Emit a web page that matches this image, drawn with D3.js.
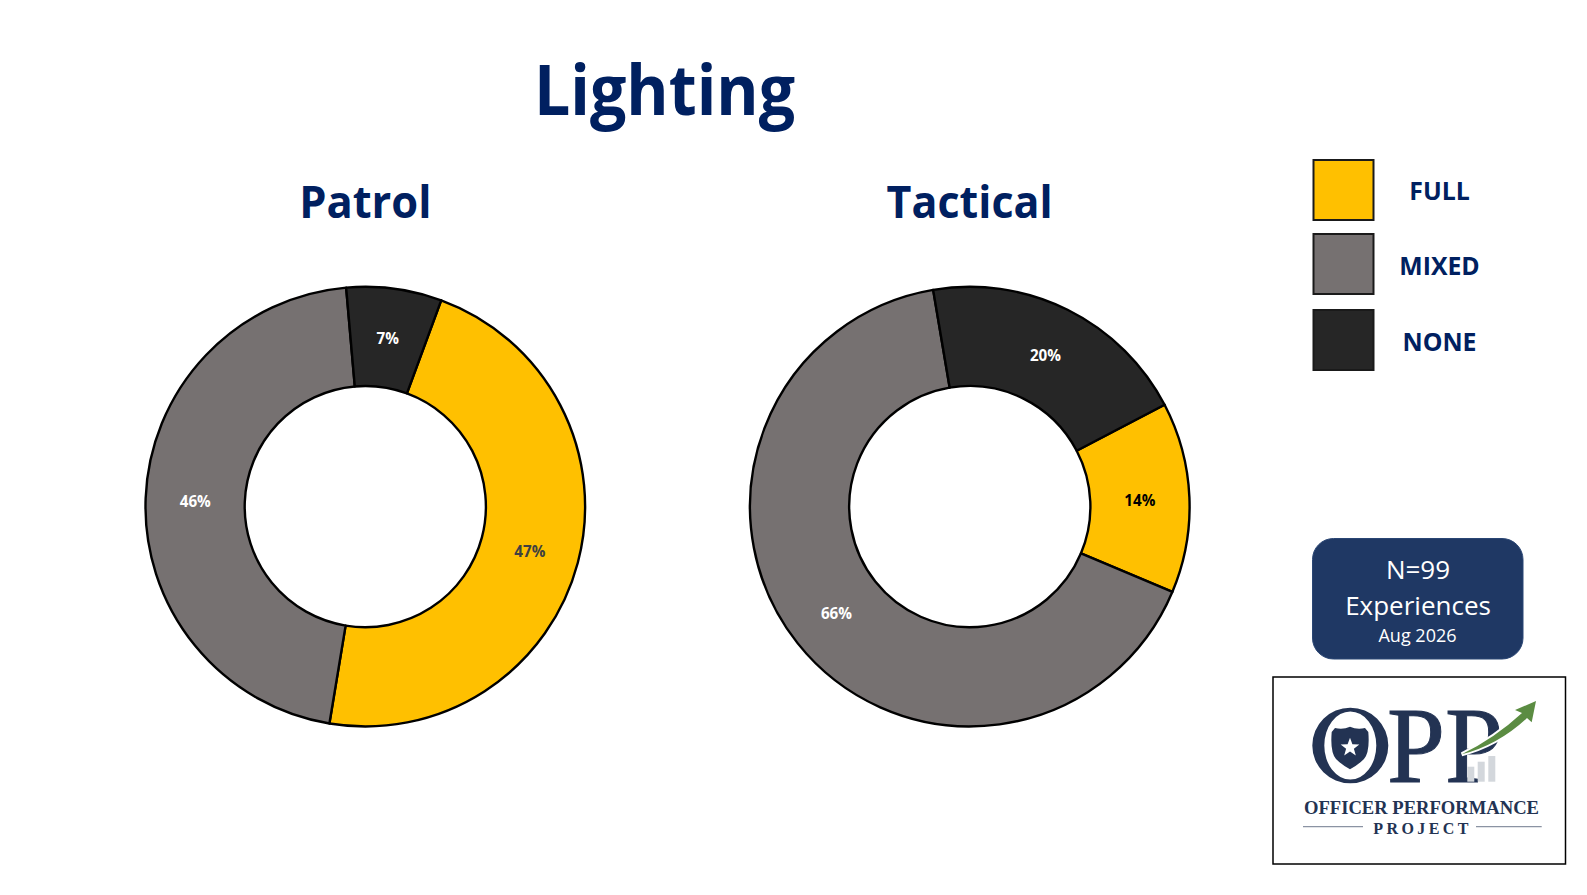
<!DOCTYPE html>
<html><head><meta charset="utf-8">
<script src="https://cdn.jsdelivr.net/npm/d3@7/dist/d3.min.js"></script>
<style>html,body{margin:0;padding:0;background:#fff;overflow:hidden}svg{display:block}</style>
</head><body><svg id="c" width="1587" height="895"></svg>
<script>
const categories = ["FULL","MIXED","NONE"];
const patrolValues = [47,46,7];
const tacticalValues = [14,66,20];
const colors = ["#FFC000","#767171","#262626"];
const labelColorsPatrol = ["#404040","#ffffff","#ffffff"];
const labelColorsTactical = ["#000000","#ffffff","#ffffff"];
const legendTops = [160,234,310];
const legendBaselines = [199.5,275,350.5];
const navy = "#002060", font = "'Open Sans',sans-serif";
const svg = d3.select("#c");

function txt(x,y,s,size,weight,fill,opts={}){
  const t=svg.append("text").attr("x",x).attr("y",y).attr("text-anchor",opts.anchor||"middle")
    .attr("font-family",opts.family||font).attr("font-size",size).attr("font-weight",weight).attr("fill",fill).text(s);
  if(opts.condense){t.attr("textLength",t.node().getComputedTextLength()*opts.condense).attr("lengthAdjust","spacingAndGlyphs");}
  if(opts.length){t.attr("textLength",opts.length).attr("lengthAdjust",opts.adjust||"spacingAndGlyphs");}
  return t;
}
txt(664.5,115,"Lighting",70,700,navy,{condense:0.92});
txt(365.3,217.5,"Patrol",44.8,700,navy,{condense:0.97});
txt(969.6,217.5,"Tactical",44.8,700,navy,{condense:0.96});

function donut(cx,values,startDeg,labelColors){
  const g=svg.append("g").attr("transform",`translate(${cx},506.6)`);
  const start=startDeg*Math.PI/180;
  const pie=d3.pie().sort(null).value(d=>d).startAngle(start).endAngle(start+2*Math.PI);
  const arc=d3.arc().innerRadius(120.6).outerRadius(219.8);
  const arcs=pie(values);
  g.selectAll("path").data(arcs).join("path").attr("d",arc).attr("fill",(d,i)=>colors[i])
    .attr("stroke","#000").attr("stroke-width",2.4).attr("stroke-linejoin","round");
  g.selectAll("text").data(arcs).join("text")
    .attr("x",d=>arc.centroid(d)[0]).attr("y",d=>arc.centroid(d)[1]+6.5)
    .attr("text-anchor","middle").attr("font-family",font).attr("font-size",15.2).attr("font-weight",700)
    .attr("fill",(d,i)=>labelColors[i]).text(d=>d.value+"%");
}
donut(365.3,patrolValues,20.2,labelColorsPatrol);
donut(969.8,tacticalValues,62.4,labelColorsTactical);

// legend
categories.forEach((c,i)=>{
  svg.append("rect").attr("x",1313.5).attr("y",legendTops[i]).attr("width",60).attr("height",60)
    .attr("fill",colors[i]).attr("stroke","#1a1a1a").attr("stroke-width",2);
  txt(1439.5,legendBaselines[i],c,25.6,700,navy,{condense:0.97});
});

// N box
svg.append("rect").attr("x",1312.5).attr("y",538.5).attr("width",210.5).attr("height",120.5).attr("rx",21)
  .attr("fill","#1F3864").attr("stroke","#2a4674").attr("stroke-width",1);
txt(1418,578.8,"N=99",26,400,"#fff");
txt(1418,614.8,"Experiences",26,400,"#fff");
txt(1417.5,641.5,"Aug 2026",18,400,"#fff");

// logo
svg.append("rect").attr("x",1273).attr("y",677).attr("width",292.5).attr("height",187).attr("fill","#fff").attr("stroke","#000").attr("stroke-width",1.5);
const logoNavy="#233353", serif="'Liberation Serif',serif";
const lg=svg.append("g");
const ell=(cx,cy,rx,ry)=>`M${cx-rx} ${cy}a${rx} ${ry} 0 1 0 ${2*rx} 0a${rx} ${ry} 0 1 0 ${-2*rx} 0Z`;
lg.append("path").attr("fill-rule","evenodd").attr("fill",logoNavy)
  .attr("d",ell(1350.3,745.5,38,37.8)+ell(1350.3,745.5,26,34));
lg.append("path").attr("fill",logoNavy)
  .attr("d","M1331.7 732 L1335 728 Q1343 730 1350 726.7 Q1357 730 1365 728 L1368.3 732 Q1370 752 1364 759 Q1358 765 1350 769.3 Q1342 765 1336 759 Q1330 752 1331.7 732Z");
lg.append("path").attr("fill","#fff")
  .attr("d",d3.range(10).map(i=>{const r=i%2?4.1:9.8,a=i*Math.PI/5;return (i?"L":"M")+(1350+r*Math.sin(a)).toFixed(1)+" "+(747.5-r*Math.cos(a)).toFixed(1)}).join("")+"Z");
svg.append("text").attr("x",1387).attr("y",781.7).attr("font-family",serif).attr("font-size",108).attr("font-weight",400)
  .attr("fill",logoNavy).attr("stroke",logoNavy).attr("stroke-width",1).attr("textLength",116).attr("lengthAdjust","spacingAndGlyphs").text("PP");
const barsG=svg.append("g");
[[1467.3,15],[1477.7,20],[1488.3,25.7]].forEach(([x,h])=>barsG.append("rect").attr("x",x).attr("y",781.7-h).attr("width",7).attr("height",h).attr("fill","#d3d7dc"));
const arrow="M1461.7 754.3 Q1495 738 1522 713 L1515 710 L1536 701 L1531.7 722.3 L1527 718 Q1498 745 1461.7 754.3Z";
svg.append("path").attr("d",arrow).attr("fill","#fff").attr("stroke","#fff").attr("stroke-width",4);
svg.append("path").attr("d",arrow).attr("fill","#5b8c42");
txt(1421.5,814,"OFFICER PERFORMANCE",18.6,700,logoNavy,{family:serif,length:235});
txt(1420.8,834,"PROJECT",16,700,logoNavy,{family:serif,length:95,adjust:"spacing"});
[[1303,1363],[1476,1541.7]].forEach(([a,b])=>svg.append("line").attr("x1",a).attr("x2",b).attr("y1",826.7).attr("y2",826.7).attr("stroke","#8b93a3").attr("stroke-width",1.2));
</script></body></html>
